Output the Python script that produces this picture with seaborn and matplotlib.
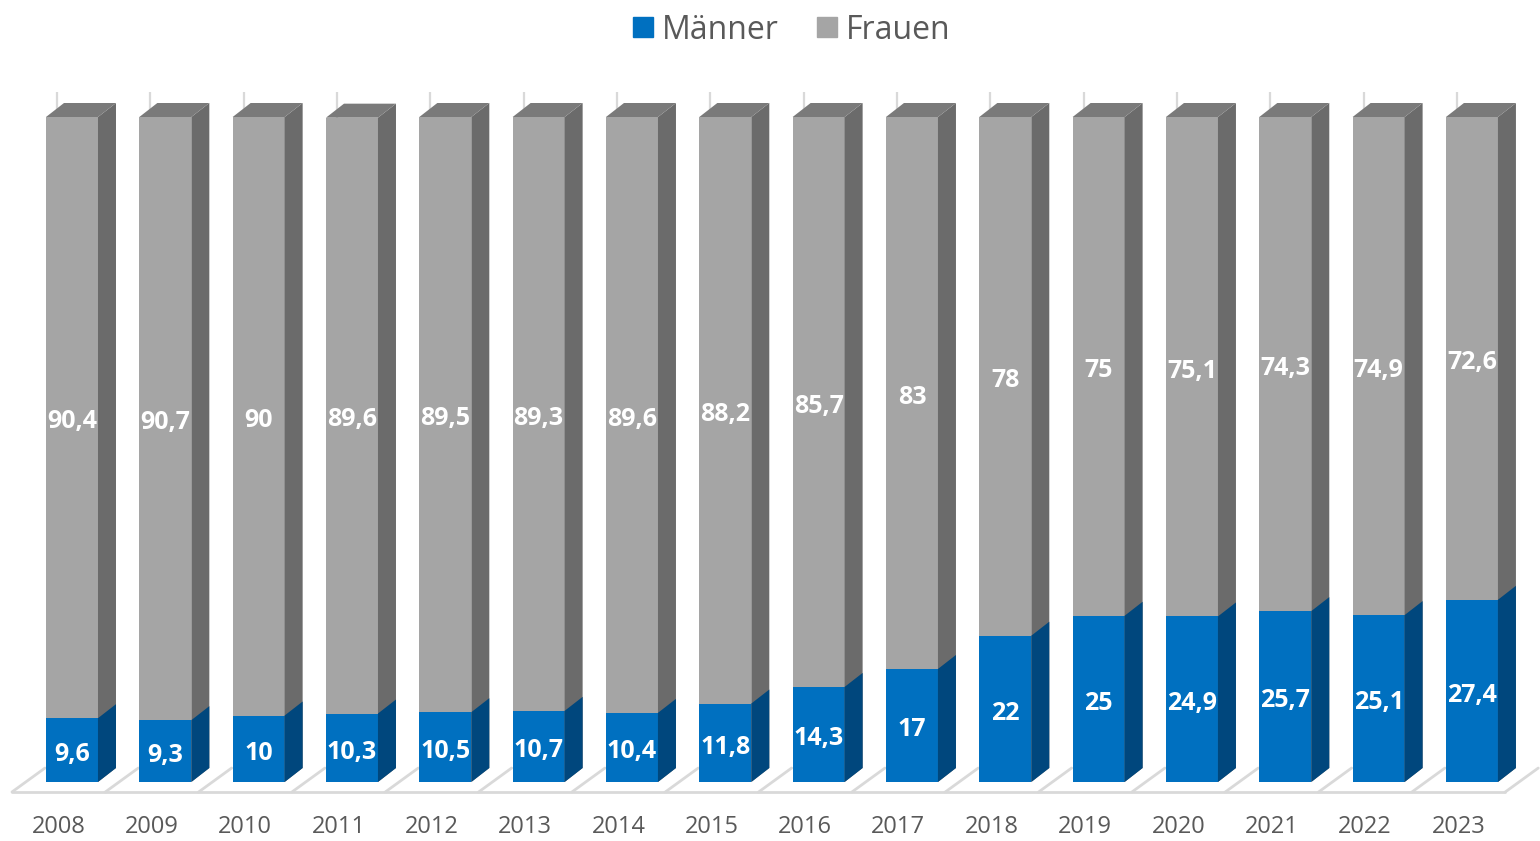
import matplotlib
matplotlib.use("Agg")
import matplotlib.pyplot as plt
from matplotlib.patches import Polygon
from matplotlib.lines import Line2D
import seaborn as sns
import pandas as pd

years = ["2008", "2009", "2010", "2011", "2012", "2013", "2014", "2015",
         "2016", "2017", "2018", "2019", "2020", "2021", "2022", "2023"]
maenner = [9.6, 9.3, 10, 10.3, 10.5, 10.7, 10.4, 11.8, 14.3, 17, 22, 25, 24.9, 25.7, 25.1, 27.4]
frauen = [90.4, 90.7, 90, 89.6, 89.5, 89.3, 89.6, 88.2, 85.7, 83, 78, 75, 75.1, 74.3, 74.9, 72.6]
series_names = ["Männer", "Frauen"]

BLUE = "#0070C0"
BLUE_SIDE = "#00477D"
GRAY = "#A5A5A5"
GRAY_SIDE = "#6B6B6B"
GRAY_TOP = "#7A7A7A"
FLOOR = "#D9D9D9"
TEXT = "#595959"

sns.set_style("white")
plt.rcParams["font.family"] = ["Open Sans", "DejaVu Sans"]

df = pd.DataFrame({"Jahr": years, "Männer": maenner, "Frauen": frauen})
df["Gesamt"] = df["Männer"] + df["Frauen"]

W, H = 1540, 841
fig = plt.figure(figsize=(W / 100, H / 100), dpi=100)
ax = fig.add_axes([0, 0, 1, 1])

# pixel geometry of the reference -> data scale
px_per_cat = 93.33
px_per_unit = 6.65
x0_px = 72.0      # centre of first bar
y0_px = 59.0      # y=0 from bottom

bar_w = 0.557
dx = 18 / px_per_cat
dy = 14 / px_per_unit
lbl_off = 0.65

# back wall vertical lines (visible only above bars)
for i in range(len(years)):
    ax.plot([i - 0.161, i - 0.161], [dy, 103.8], color=FLOOR, lw=1.6, zorder=0.5,
            solid_capstyle="butt")

# floor
fl_front = -1.5
fl_back = 2.1
fl_left = -0.643
fl_shift = 33 / px_per_cat
ax.plot([fl_left, fl_left + len(years)], [fl_front, fl_front], color=FLOOR, lw=2, zorder=0.5)
for k in range(len(years) + 1):
    xb = fl_left + k
    ax.plot([xb, xb + fl_shift], [fl_front, fl_back], color=FLOOR, lw=2, zorder=0.5)

n0 = len(ax.patches)
sns.barplot(data=df, x="Jahr", y="Gesamt", color=GRAY, saturation=1, width=bar_w,
            ax=ax, linewidth=0, zorder=1)
tot_patches = ax.patches[n0:]
n1 = len(ax.patches)
sns.barplot(data=df, x="Jahr", y="Männer", color=BLUE, saturation=1, width=bar_w,
            ax=ax, linewidth=0, zorder=1)
m_patches = ax.patches[n1:]


def fmt(v):
    return f"{v:g}".replace(".", ",")


for pt, pm, m, f in zip(tot_patches, m_patches, maenner, frauen):
    x = pt.get_x()
    w = pt.get_width()
    h = pt.get_height()
    hm = pm.get_height()
    # gray side and top
    ax.add_patch(Polygon([(x + w, 0), (x + w + dx, dy), (x + w + dx, h + dy), (x + w, h)],
                         closed=True, fc=GRAY_SIDE, ec="none", zorder=1.1))
    ax.add_patch(Polygon([(x, h), (x + dx, h + dy), (x + w + dx, h + dy), (x + w, h)],
                         closed=True, fc=GRAY_TOP, ec="none", zorder=1.1))
    # blue side
    ax.add_patch(Polygon([(x + w, 0), (x + w + dx, dy), (x + w + dx, hm + dy), (x + w, hm)],
                         closed=True, fc=BLUE_SIDE, ec="none", zorder=1.2))
    cx = x + w / 2
    ax.text(cx, hm / 2 - lbl_off, fmt(m), ha="center", va="center", color="white",
            fontsize=18, fontweight="bold", zorder=3)
    ax.text(cx, hm + f / 2 - lbl_off, fmt(f), ha="center", va="center", color="white",
            fontsize=18, fontweight="bold", zorder=3)

# category labels
for i, yr in enumerate(years):
    ax.text(i - 0.145, -8.6, yr, ha="center", va="bottom", color=TEXT, fontsize=17)

ax.set_xlim(-x0_px / px_per_cat, (W - x0_px) / px_per_cat)
ax.set_ylim(-y0_px / px_per_unit, (H - y0_px) / px_per_unit)
ax.axis("off")

handles = [Line2D([], [], marker="s", ls="", color=BLUE, markersize=15),
           Line2D([], [], marker="s", ls="", color=GRAY, markersize=15)]
fig.legend(handles, series_names, loc="upper center", bbox_to_anchor=(0.512, 1.018),
           ncol=2, frameon=False, fontsize=23, handletextpad=0.1, columnspacing=1.0,
           labelcolor=TEXT, handlelength=1.0)

fig.savefig("out.png", dpi=100)
